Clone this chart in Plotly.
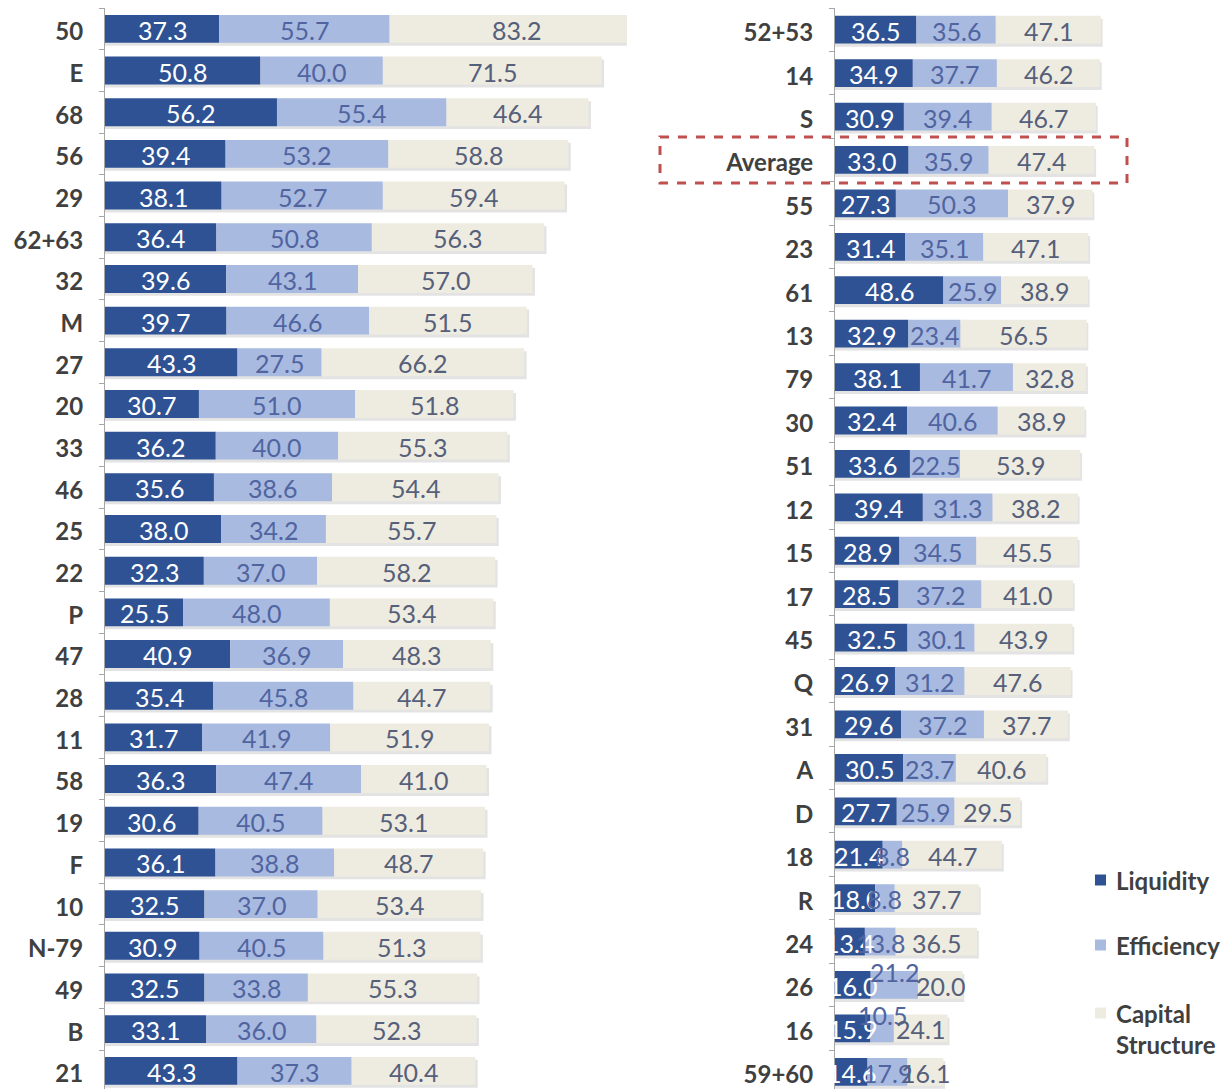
import plotly.graph_objects as go

# ---------------- data ----------------
left_cats = ["50", "E", "68", "56", "29", "62+63", "32", "M", "27", "20", "33", "46", "25",
             "22", "P", "47", "28", "11", "58", "19", "F", "10", "N-79", "49", "B", "21"]
left_liquidity = [37.3, 50.8, 56.2, 39.4, 38.1, 36.4, 39.6, 39.7, 43.3, 30.7, 36.2, 35.6, 38.0,
                  32.3, 25.5, 40.9, 35.4, 31.7, 36.3, 30.6, 36.1, 32.5, 30.9, 32.5, 33.1, 43.3]
left_efficiency = [55.7, 40.0, 55.4, 53.2, 52.7, 50.8, 43.1, 46.6, 27.5, 51.0, 40.0, 38.6, 34.2,
                   37.0, 48.0, 36.9, 45.8, 41.9, 47.4, 40.5, 38.8, 37.0, 40.5, 33.8, 36.0, 37.3]
left_capital = [83.2, 71.5, 46.4, 58.8, 59.4, 56.3, 57.0, 51.5, 66.2, 51.8, 55.3, 54.4, 55.7,
                58.2, 53.4, 48.3, 44.7, 51.9, 41.0, 53.1, 48.7, 53.4, 51.3, 55.3, 52.3, 40.4]

right_cats = ["52+53", "14", "S", "Average", "55", "23", "61", "13", "79", "30", "51", "12", "15",
              "17", "45", "Q", "31", "A", "D", "18", "R", "24", "26", "16", "59+60"]
right_liquidity = [36.5, 34.9, 30.9, 33.0, 27.3, 31.4, 48.6, 32.9, 38.1, 32.4, 33.6, 39.4, 28.9,
                   28.5, 32.5, 26.9, 29.6, 30.5, 27.7, 21.4, 18.0, 13.4, 16.0, 15.9, 14.6]
right_efficiency = [35.6, 37.7, 39.4, 35.9, 50.3, 35.1, 25.9, 23.4, 41.7, 40.6, 22.5, 31.3, 34.5,
                    37.2, 30.1, 31.2, 37.2, 23.7, 25.9, 8.8, 8.8, 13.8, 21.2, 10.5, 17.9]
right_capital = [47.1, 46.2, 46.7, 47.4, 37.9, 47.1, 38.9, 56.5, 32.8, 38.9, 53.9, 38.2, 45.5,
                 41.0, 43.9, 47.6, 37.7, 40.6, 29.5, 44.7, 37.7, 36.5, 20.0, 24.1, 16.1]

series_names = ["Liquidity", "Efficiency", "Capital<br>Structure"]
highlight_cat = "Average"

# labels that the original chart lifted above their bar to avoid collisions
raised_labels = {("26", 1), ("16", 1)}

# ---------------- style ----------------
W, H = 1227, 1089
TOP = 8
PLOT_H = H - TOP
C_LIQ, C_EFF, C_CAP = "#2E5294", "#A9BAE1", "#EEECE1"
T_LIQ, T_EFF, T_CAP = "#FFFFFF", "#5065A0", "#56607A"
SERIES_COLORS = [C_LIQ, C_EFF, C_CAP]
TEXT_COLORS = [T_LIQ, T_EFF, T_CAP]
FONT = "Lato"
LABEL_SIZE = 25
CAT_SIZE = 24
CAT_COLOR = "#404040"
AXIS_COLOR = "#A6A6A6"

fig = go.Figure()


def fmt(v):
    return f"{v:.1f}"


def add_panel(cats, liq, eff, cap, xa, ya, width):
    series = [liq, eff, cap]
    totals = [a + b + c for a, b, c in zip(liq, eff, cap)]
    bases = [[0] * len(cats), list(liq), [a + b for a, b in zip(liq, eff)]]
    # soft drop shadow behind each bar
    fig.add_trace(go.Bar(
        y=cats, x=[t + 0.8 for t in totals], base=[0] * len(cats), orientation="h",
        width=width, offset=-width / 2 + 0.07,
        marker=dict(color="rgba(0,0,0,0.11)", line=dict(width=0)),
        hoverinfo="skip", showlegend=False, xaxis=xa, yaxis=ya))
    for k in range(3):
        fig.add_trace(go.Bar(
            y=cats, x=series[k], base=bases[k], orientation="h", width=width,
            offset=-width / 2, name=series_names[k], showlegend=False,
            marker=dict(color=SERIES_COLORS[k], line=dict(width=0)),
            hoverinfo="x+y+name", xaxis=xa, yaxis=ya))
    # data labels drawn above all bars, centred on each segment
    # (y given as the category index so numeric-looking names are not misread)
    for k in range(3):
        for i, (c, b, v) in enumerate(zip(cats, bases[k], series[k])):
            fig.add_annotation(
                xref=xa, yref=ya, x=b + v / 2, y=i, text=fmt(v), showarrow=False,
                xanchor="center", yanchor="middle",
                yshift=13 if (c, k) in raised_labels else -1,
                font=dict(family=FONT, size=LABEL_SIZE, color=TEXT_COLORS[k]))


add_panel(left_cats, left_liquidity, left_efficiency, left_capital, "x", "y", 0.67)
add_panel(right_cats, right_liquidity, right_efficiency, right_capital, "x2", "y2", 0.64)

left_spacing = 41.68
right_spacing = 43.42

ycommon = dict(
    type="category", showline=True, linecolor=AXIS_COLOR, linewidth=1,
    ticks="outside", tickson="boundaries", ticklen=5, tickcolor=AXIS_COLOR,
    tickfont=dict(family=FONT, size=CAT_SIZE, color=CAT_COLOR, weight="bold"),
    ticklabelstandoff=16, ticklabelshift=-3, showgrid=False, zeroline=False,
    fixedrange=True, automargin=False,
)

fig.update_layout(
    width=W, height=H,
    margin=dict(l=0, r=0, t=TOP, b=0, pad=0, autoexpand=False),
    paper_bgcolor="white", plot_bgcolor="rgba(0,0,0,0)",
    barmode="overlay", showlegend=False,
    xaxis=dict(domain=[105 / W, 627 / W], range=[0, 522 / 3.06], visible=False,
               anchor="y", fixedrange=True, automargin=False),
    yaxis=dict(domain=[0, 1], anchor="x",
               range=[-0.5 + PLOT_H / left_spacing, -0.5], **ycommon),
    xaxis2=dict(domain=[835 / W, 1.0], range=[0, 392 / 2.23], visible=False,
                anchor="y2", fixedrange=True, automargin=False),
    yaxis2=dict(domain=[0, 1], anchor="x2",
                range=[-0.5 + PLOT_H / right_spacing, -0.5], **ycommon),
)


def py(pixel_y):
    return (H - pixel_y) / PLOT_H


# legend drawn as shapes + annotations (paper coordinates)
legend_rows = [880, 945, 1013]
for name, col, ly in zip(series_names, SERIES_COLORS, legend_rows):
    fig.add_shape(type="rect", xref="paper", yref="paper",
                  x0=1095 / W, x1=1106 / W, y0=py(ly + 5.5), y1=py(ly - 5.5),
                  fillcolor=col, line=dict(width=0))
    fig.add_annotation(xref="paper", yref="paper", x=1114 / W, y=py(ly - 16),
                       xanchor="left", yanchor="top", align="left", showarrow=False,
                       text=name,
                       font=dict(family=FONT, size=CAT_SIZE, color=CAT_COLOR, weight="bold"))

# dashed highlight box around the "Average" row
hi = right_cats.index(highlight_cat)
fig.add_shape(type="rect", xref="paper", yref="y2",
              x0=660 / W, x1=1127 / W, y0=hi - 0.53, y1=hi + 0.53,
              line=dict(color="#C0504D", width=3, dash="dash"),
              fillcolor="rgba(0,0,0,0)", layer="above")

fig.write_html("out.html", config={"displayModeBar": False},
               post_script="document.body.style.margin='0';")
